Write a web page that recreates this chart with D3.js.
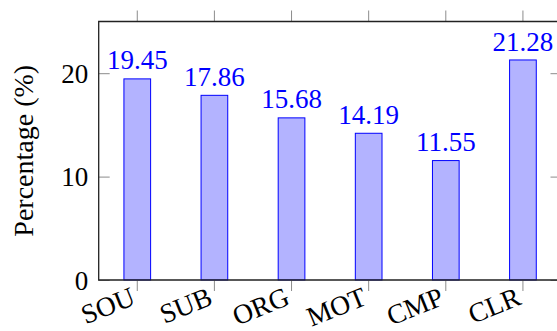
<!DOCTYPE html>
<html>
  <head>
    <meta charset='utf-8' />
    <script src="https://d3js.org/d3.v7.min.js"></script>
    <style>
    body { margin: 0; background: #fff; }
    </style>
  </head>
  <body>
    <div id="chart"></div>
    <script>
    var categories = ["SOU", "SUB", "ORG", "MOT", "CMP", "CLR"];
    var percentages = [19.45, 17.86, 15.68, 14.19, 11.55, 21.28];
    var yTicks = [0, 10, 20];

    var serif = "Liberation Serif";

    var width = 557,
        height = 331,
        margin = {top: 21.5, left: 98.7, bottom: 51},
        plotRight = 561.5,
        plotBottom = height - margin.bottom,
        tickLen = 11;

    var svg = d3.select("#chart").append("svg")
        .attr("width", width)
        .attr("height", height)
        .attr("font-family", serif);

    var x = d3.scaleBand()
        .domain(categories)
        .range([margin.left, plotRight])
        .paddingInner(0.654)
        .paddingOuter(0.327);

    var y = d3.scaleLinear()
        .domain([0, 25])
        .range([plotBottom, margin.top]);

    // bars
    svg.selectAll(".bar").data(percentages).enter()
      .append("rect")
        .attr("class", "bar")
        .attr("x", function(d, i) { return x(categories[i]); })
        .attr("width", x.bandwidth())
        .attr("y", function(d) { return y(d); })
        .attr("height", function(d) { return y(0) - y(d); })
        .attr("fill", "#b3b3ff")
        .attr("stroke", "#0000ff")
        .attr("stroke-width", 1);

    // value labels
    svg.selectAll(".val").data(percentages).enter()
      .append("text")
        .attr("class", "val")
        .attr("x", function(d, i) { return x(categories[i]) + x.bandwidth() / 2; })
        .attr("y", function(d) { return y(d) - 9.4; })
        .attr("font-family", serif)
        .attr("text-anchor", "middle")
        .attr("font-size", 27)
        .attr("fill", "#0000ff")
        .text(function(d) { return d.toFixed(2); });

    function styleAxis(g) {
      g.attr("font-family", serif).attr("font-size", 27);
      g.select(".domain").remove();
      g.selectAll(".tick line").attr("stroke", "#8c8c8c").attr("stroke-width", 1);
      g.selectAll("text").attr("font-family", serif).attr("fill", "#000");
    }

    // y axis left (ticks inside)
    var yAxisLeft = svg.append("g")
        .attr("transform", "translate(" + margin.left + ",0)")
        .call(d3.axisLeft(y).tickValues(yTicks).tickSize(-tickLen).tickPadding(10.5));
    styleAxis(yAxisLeft);
    yAxisLeft.selectAll("text").attr("dy", "0.34em");

    // y axis right (ticks inside)
    var yAxisRight = svg.append("g")
        .attr("transform", "translate(" + plotRight + ",0)")
        .call(d3.axisRight(y).tickValues(yTicks).tickSize(-tickLen).tickFormat(""));
    styleAxis(yAxisRight);

    // x axis bottom (ticks outside)
    var xAxisBottom = svg.append("g")
        .attr("transform", "translate(0," + plotBottom + ")")
        .call(d3.axisBottom(x).tickSize(tickLen).tickFormat(""));
    styleAxis(xAxisBottom);

    // x axis top (ticks outside)
    var xAxisTop = svg.append("g")
        .attr("transform", "translate(0," + margin.top + ")")
        .call(d3.axisTop(x).tickSize(tickLen).tickFormat(""));
    styleAxis(xAxisTop);

    // rotated category labels
    svg.selectAll(".cat").data(categories).enter()
      .append("text")
        .attr("class", "cat")
        .attr("transform", function(d) {
          return "translate(" + (x(d) + x.bandwidth() / 2 - 4) + "," + (plotBottom + 15) + ") rotate(-22)";
        })
        .attr("dy", "0.35em")
        .attr("font-family", serif)
        .attr("text-anchor", "end")
        .attr("font-size", 27.5)
        .text(function(d) { return d; });

    // axis frame
    svg.append("path")
        .attr("d", "M" + plotRight + "," + margin.top + "H" + margin.left + "V" + plotBottom + "H" + plotRight)
        .attr("fill", "none")
        .attr("stroke", "#222")
        .attr("stroke-width", 1.3);

    // y title
    svg.append("text")
        .attr("transform", "translate(33," + ((margin.top + plotBottom) / 2) + ") rotate(-90)")
        .attr("font-family", serif)
        .attr("text-anchor", "middle")
        .attr("font-size", 28)
        .text("Percentage (%)");
    </script>
</body>
</html>
